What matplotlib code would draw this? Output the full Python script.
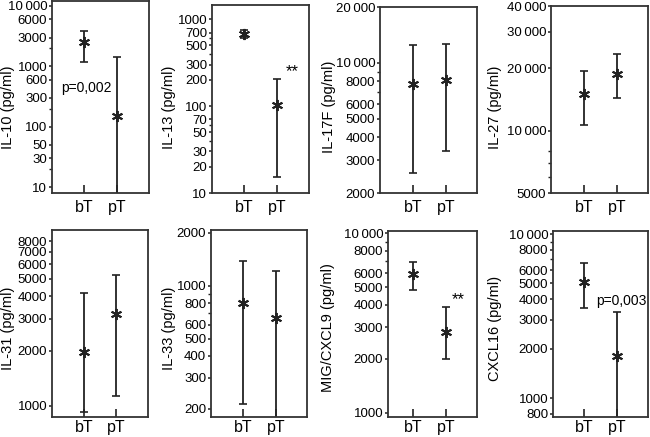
import matplotlib
matplotlib.use('Agg')
import matplotlib.pyplot as plt
from matplotlib.ticker import FixedLocator, FuncFormatter, NullFormatter

plt.rcParams['font.family'] = ['Liberation Sans', 'DejaVu Sans']

groups = ['bT', 'pT']
names = ['IL-10', 'IL-13', 'IL-17F', 'IL-27', 'IL-31', 'IL-33', 'MIG/CXCL9', 'CXCL16']

# median and range per group (pg/ml); lower values below the axis are clipped
med_bT = [2570, 675, 7670, 15010, 1965, 798, 5900, 5070]
lo_bT = [1200, 601, 2547, 10630, 919, 212, 4805, 3555]
hi_bT = [3860, 750, 12570, 19400, 4160, 1391, 6950, 6670]
med_pT = [149, 104, 8090, 18830, 3183, 656, 2810, 1815]
lo_pT = [5, 15.4, 3380, 14410, 1124, 150, 1995, 600]
hi_pT = [1420, 202, 12720, 23520, 5245, 1221, 3875, 3360]

major_ticks = [
    [10, 30, 50, 100, 300, 600, 1000, 3000, 6000, 10000],
    [10, 20, 30, 50, 70, 100, 200, 300, 500, 700, 1000],
    [2000, 3000, 4000, 5000, 6000, 8000, 10000, 20000],
    [5000, 10000, 20000, 30000, 40000],
    [1000, 2000, 3000, 4000, 5000, 6000, 7000, 8000],
    [200, 300, 400, 500, 600, 800, 1000, 2000],
    [1000, 2000, 3000, 4000, 5000, 6000, 8000, 10000],
    [800, 1000, 2000, 3000, 4000, 5000, 6000, 8000, 10000],
]
minor_ticks = [
    [20, 200, 2000],
    [40, 60, 400, 600],
    [7000, 9000],
    [6000, 7000, 8000],
    [],
    [700, 900],
    [7000, 9000],
    [7000, 9000],
]
ylims = [(8, 12100), (10, 1450), (2000, 20000), (5000, 40000),
         (865, 9250), (180, 2080), (946, 10300), (767, 10430)]

# axes boxes in pixels: left, top, right, bottom
W, H = 650, 437
boxes = [(52, 1, 149, 193), (212, 5, 309, 193), (380, 7, 477, 193), (551, 6, 648, 193),
         (52, 230, 148, 417), (211, 230, 307, 417), (388, 231, 477, 417), (553, 231, 648, 417)]
xlims = [(0.03, 2.97), (0.01, 2.99), (-0.03, 2.96), (0.0, 2.95),
         (0.0, 2.98), (0.0, 2.96), (0.22, 2.96), (0.05, 2.95)]
# y label centre, pixels
label_x = [8, 169, 329, 495, 8, 169, 328, 495]
label_y = [107, 107, 107, 107, 328, 328, 328, 328]

col = '#222222'


def fmt(v, pos):
    if v >= 10000:
        return f"{int(v):,}".replace(',', '\u2009')
    return f"{int(v)}"


fig = plt.figure(figsize=(6.5, 4.37), dpi=100)
axes = []
for i, name in enumerate(names):
    l, t, r, b = boxes[i]
    ax = fig.add_axes([l / W, 1 - b / H, (r - l) / W, (b - t) / H])
    axes.append(ax)
    ax.set_yscale('log')
    meds = [med_bT[i], med_pT[i]]
    los = [lo_bT[i], lo_pT[i]]
    his = [hi_bT[i], hi_pT[i]]
    xs = [1, 2]
    yerr = [[m - lo for m, lo in zip(meds, los)], [hi - m for m, hi in zip(meds, his)]]
    ax.errorbar(xs, meds, yerr=yerr, fmt='none', ecolor=col, elinewidth=1.3,
                capsize=3, capthick=1.2)
    ax.plot(xs, meds, linestyle='none', marker=(6, 2, 0), markersize=8,
            markeredgewidth=1.4, color=col)
    ax.set_ylim(*ylims[i])
    ax.set_xlim(*xlims[i])
    ax.yaxis.set_major_locator(FixedLocator(major_ticks[i]))
    ax.yaxis.set_major_formatter(FuncFormatter(fmt))
    ax.yaxis.set_minor_locator(FixedLocator(minor_ticks[i]))
    ax.yaxis.set_minor_formatter(NullFormatter())
    ax.set_xticks(xs)
    ax.set_xticklabels(groups)
    ax.tick_params(axis='x', direction='in', length=6, width=1.2, color=col,
                   labelsize=11.5, pad=5 if i < 4 else 2.5)
    ax.tick_params(axis='y', which='major', direction='out', length=2.5, width=1.1,
                   color=col, labelsize=9.5, pad=1)
    ax.tick_params(axis='y', which='minor', direction='out', length=2, width=1.0,
                   color=col)
    for s in ax.spines.values():
        s.set_color('#333333')
        s.set_linewidth(1.3)
    ax.set_ylabel(f"{name} (pg/ml)", fontsize=10.5)
    ax.yaxis.label.set_va('center')
    ax.yaxis.set_label_coords((label_x[i] - l) / (r - l), (b - label_y[i]) / (b - t))

axes[0].text(1.08, 440, 'p=0,002', ha='center', va='center', fontsize=10)
axes[1].text(2.46, 247, '**', ha='center', va='center', fontsize=12)
axes[6].text(2.38, 4280, '**', ha='center', va='center', fontsize=12)
axes[7].text(2.15, 3900, 'p=0,003', ha='center', va='center', fontsize=10)

fig.savefig('out.png', dpi=100)
